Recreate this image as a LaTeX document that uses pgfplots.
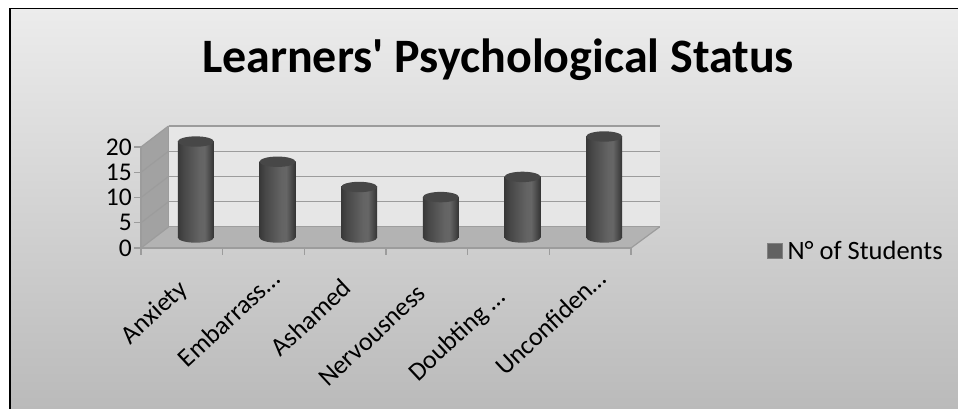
\documentclass[border=0pt]{standalone}
\usepackage{fontspec}
\setmainfont{Carlito}
\usepackage{pgfplots}
\usepackage{pgfplotstable}
\pgfplotsset{compat=1.18}

\definecolor{wallback}{HTML}{E6E6E6}
\definecolor{wallside}{HTML}{A2A2A2}
\definecolor{wallfloor}{HTML}{B3B3B3}
\definecolor{gridgray}{HTML}{9C9C9C}
\definecolor{captop}{HTML}{474747}
\definecolor{bgtop}{HTML}{ECECEC}
\definecolor{bgbottom}{HTML}{BABABA}

% Horizontal light/dark bands across a cylinder body
\pgfdeclarehorizontalshading{cyl}{100bp}{
  color(0bp)=(black!78);
  color(25bp)=(black!78);
  color(33bp)=(black!72);
  color(55bp)=(black!61);
  color(62bp)=(black!60);
  color(70bp)=(black!72);
  color(75bp)=(black!80);
  color(100bp)=(black!80)}

\pgfdeclareplotmark{cylcap}{\path[draw=none,fill=captop,rotate=7] (0pt,0pt) ellipse [x radius=18pt,y radius=5.2pt];}
\pgfdeclareplotmark{cylbase}{\path[draw=none,shade,shading=cyl,rotate=7] (0pt,0pt) ellipse [x radius=18pt,y radius=5.2pt];}

\pgfplotstableread{
idx students
0 19
1 15
2 10
3 8
4 12
5 20
}\studentdata

% Category label whose end reaches d past the anchor, along the text direction
\newcommand{\catlabel}[2]{#1\hspace*{-#2pt}}

\begin{document}
\begin{tikzpicture}
  \path[use as bounding box] (0pt,0pt) rectangle (958pt,409pt);

  % chart area with its dark frame on the left and top
  \shade[top color=bgtop,bottom color=bgbottom] (11pt,0pt) rectangle (958pt,400pt);
  \fill[black] (9pt,0pt) rectangle (11pt,400pt);
  \fill[black] (9pt,400pt) rectangle (958pt,401pt);

  \node[font=\fontsize{48}{52}\selectfont\bfseries,anchor=center] at (498pt,349pt) {Learners\textquotesingle{} Psychological Status};

  % back wall with its horizontal gridlines
  \begin{axis}[
    at={(168.5pt,182pt)},anchor=south west,
    scale only axis,width=491pt,height=101pt,
    xmin=-0.5,xmax=5.5,ymin=0,ymax=20,
    axis background/.style={fill=wallback},
    axis line style={draw=none},
    xtick=\empty,ytick={0,5,...,20},yticklabels={},
    tick style={draw=none},
    ymajorgrids,grid style={gridgray,line width=1.4pt},
  ]
  \end{axis}

  % side wall and floor of the box
  \fill[wallside] (141pt,161pt) -- (168.5pt,182pt) -- (168.5pt,283pt) -- (141pt,262pt) -- cycle;
  \fill[wallfloor] (141pt,161pt) -- (631pt,161pt) -- (659.5pt,182pt) -- (168.5pt,182pt) -- cycle;
  \draw[gridgray,line width=1.2pt] (168.5pt,182pt) -- (168.5pt,283pt);
  \foreach \yy in {161,186.25,211.5,236.75,262}
    \draw[gridgray,line width=1.2pt] (141pt,\yy pt) -- ++(27.5pt,21pt);
  \draw[gridgray,line width=1.2pt] (631pt,161pt) -- (659.5pt,182pt);

  % front plane: value scale, category dividers and category names
  \begin{axis}[
    at={(141pt,161pt)},anchor=south west,
    scale only axis,width=490pt,height=101pt,
    xmin=-0.5,xmax=5.5,ymin=0,ymax=20,
    axis x line=bottom,axis y line=left,
    axis line style={gridgray,line width=1.4pt,-},
    tick style={gridgray,line width=1.2pt},
    major tick length=7pt,tick align=outside,
    ytick={0,5,...,20},
    xtick={-0.5,0.5,1.5,2.5,3.5,4.5,5.5},
    xticklabels={},
    extra x ticks={0,...,5},
    extra x tick labels={
      \catlabel{Anxiety}{9},
      \catlabel{Embarrass…}{24},
      \catlabel{Ashamed}{10},
      \catlabel{Nervousness}{1},
      \catlabel{Doubting …}{-3},
      \catlabel{Unconfiden…}{24}},
    extra x tick style={tick style={draw=none}},
    x tick label style={xshift=-12pt,yshift=-29pt,rotate=43,anchor=north east,inner sep=0pt,
      font=\fontsize{26}{28}\selectfont},
    y tick label style={font=\fontsize{25.5}{27}\selectfont,inner sep=2pt},
    /pgf/number format/assume math mode=true,
  ]
  \end{axis}

  % cylinders, standing midway through the depth of the box
  \begin{axis}[
    at={(155pt,171.5pt)},anchor=south west,
    scale only axis,width=490pt,height=101pt,
    xmin=-0.5,xmax=5.5,ymin=0,ymax=20,
    hide axis,clip=false,
    legend style={at={(1.248,-0.134)},anchor=west,draw=none,fill=none,
      font=\fontsize{26.5}{28}\selectfont,inner sep=0pt,
      legend cell align=left},
    legend image code/.code={
      \draw[draw=black!50,fill=black!62,line width=0.8pt] (0pt,-7.5pt) rectangle (15pt,7.5pt);},
  ]
    \addplot[forget plot,only marks,mark=cylbase] table[x=idx,y expr=0] {\studentdata};
    \pgfplotsinvokeforeach{0,...,5}{
      \addplot[forget plot,ybar,bar width=36pt,bar shift=0pt,draw=none,shade,shading=cyl,
        x filter/.expression={x==#1 ? x : nan}]
        table[x=idx,y=students] {\studentdata};
    }
    \addplot[forget plot,only marks,mark=cylcap] table[x=idx,y=students] {\studentdata};
    \addlegendimage{black}
    \addlegendentry{\hspace*{3pt}N° of Students}
  \end{axis}
\end{tikzpicture}
\end{document}
